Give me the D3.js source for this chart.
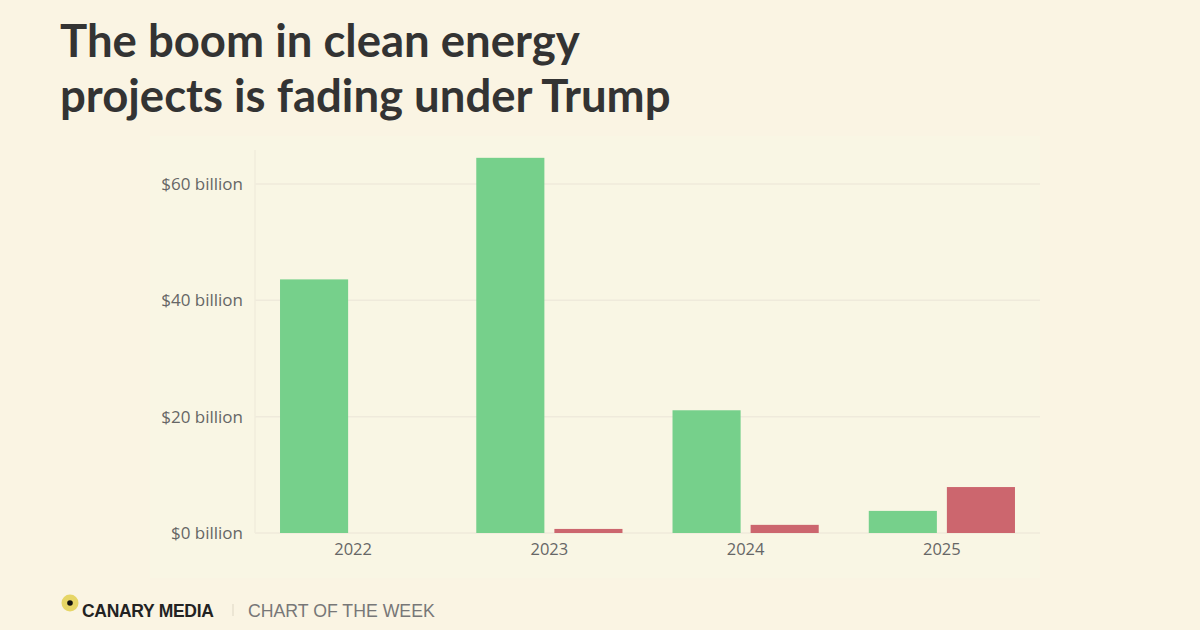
<!DOCTYPE html>
<html>
<head>
<meta charset="utf-8">
<script src="https://cdn.jsdelivr.net/npm/d3@7"></script>
<style>
  html, body { margin: 0; padding: 0; background: #faf4e3; }
  svg { display: block; }
</style>
</head>
<body>
<svg id="chart" width="1200" height="630"></svg>
<script>
// values, in billions of dollars
var years = ["2022", "2023", "2024", "2025"];
var series = ["new", "cancelled"];
var newProjects = [43.6, 64.5, 21.1, 3.8];
var cancelledProjects = [0, 0.7, 1.4, 7.9];
var yTicks = [0, 20, 40, 60];
var titleLines = ["The boom in clean energy", "projects is fading under Trump"];

var colors = { "new": "#76d08b", "cancelled": "#cc666e" };

var svg = d3.select("#chart");

var plot = { left: 255, right: 1040, top: 150, bottom: 533 };

// lighter panel behind the chart
svg.append("rect")
    .attr("x", 150).attr("y", 136)
    .attr("width", plot.right - 150).attr("height", 442)
    .attr("fill", "#f9f6e4");

// title
svg.append("g").selectAll("text")
    .data(titleLines)
  .enter().append("text")
    .attr("x", 60)
    .attr("y", function(d, i) { return 57 + i * 55; })
    .attr("font-family", "Lato, 'Noto Sans', sans-serif")
    .attr("font-weight", 700)
    .attr("font-size", 45.5)
    .attr("fill", "#333")
    .text(function(d) { return d; });

var x0 = d3.scaleBand()
    .domain(years)
    .range([plot.left, plot.right])
    .paddingInner(0.255)
    .paddingOuter(0.1275);

var x1 = d3.scaleBand()
    .domain(series)
    .range([0, x0.bandwidth()])
    .paddingInner(0.128);

var y = d3.scaleLinear()
    .domain([0, 60])
    .range([plot.bottom, 184]);

// grid
svg.append("g").selectAll("line")
    .data(yTicks)
  .enter().append("line")
    .attr("x1", plot.left).attr("x2", plot.right)
    .attr("y1", function(d) { return y(d); })
    .attr("y2", function(d) { return y(d); })
    .attr("stroke", "#efeadb")
    .attr("stroke-width", 1.5);

svg.append("line")
    .attr("x1", plot.left).attr("x2", plot.left)
    .attr("y1", plot.top).attr("y2", plot.bottom)
    .attr("stroke", "#f1ecdc")
    .attr("stroke-width", 1.5);

// y axis
var yAxis = d3.axisLeft(y)
    .tickValues(yTicks)
    .tickSize(0)
    .tickPadding(12)
    .tickFormat(function(d) { return "$" + d + " billion"; });

var gy = svg.append("g")
    .attr("transform", "translate(" + plot.left + ",0)")
    .call(yAxis);
gy.select(".domain").remove();
gy.selectAll("text")
    .attr("font-family", "'Open Sans', 'Noto Sans', sans-serif")
    .attr("font-size", 17)
    .attr("fill", "#666");

// x axis
var xAxis = d3.axisBottom(x0)
    .tickSize(0)
    .tickPadding(10);

var gx = svg.append("g")
    .attr("transform", "translate(0," + plot.bottom + ")")
    .call(xAxis);
gx.select(".domain").remove();
gx.selectAll("text")
    .attr("font-family", "'Open Sans', 'Noto Sans', sans-serif")
    .attr("font-size", 16.5)
    .attr("fill", "#666");

// bars
var rows = years.map(function(yr, i) {
    return { year: yr, values: [
        { key: "new", value: newProjects[i] },
        { key: "cancelled", value: cancelledProjects[i] }
    ] };
});

svg.append("g").selectAll("g")
    .data(rows)
  .enter().append("g")
    .attr("transform", function(d) { return "translate(" + x0(d.year) + ",0)"; })
  .selectAll("rect")
    .data(function(d) { return d.values.filter(function(v) { return v.value > 0; }); })
  .enter().append("rect")
    .attr("x", function(d) { return x1(d.key); })
    .attr("y", function(d) { return y(d.value); })
    .attr("width", x1.bandwidth())
    .attr("height", function(d) { return y(0) - y(d.value); })
    .attr("fill", function(d) { return colors[d.key]; });

// footer
var foot = svg.append("g");
foot.append("circle")
    .attr("cx", 70).attr("cy", 603).attr("r", 8.5)
    .attr("fill", "#e6d566");
foot.append("circle")
    .attr("cx", 70).attr("cy", 603).attr("r", 2.8)
    .attr("fill", "#111");
foot.append("text")
    .attr("x", 82).attr("y", 617)
    .attr("font-family", "'Liberation Sans', Arial, sans-serif")
    .attr("font-weight", 700)
    .attr("font-size", 17.5)
    .attr("letter-spacing", -0.3)
    .attr("fill", "#222")
    .text("CANARY MEDIA");
foot.append("line")
    .attr("x1", 233).attr("x2", 233)
    .attr("y1", 604).attr("y2", 616)
    .attr("stroke", "#ddd6c4");
foot.append("text")
    .attr("x", 248).attr("y", 617)
    .attr("font-family", "'Liberation Sans', Arial, sans-serif")
    .attr("font-size", 17.7)
    .attr("fill", "#777")
    .text("CHART OF THE WEEK");
</script>
</body>
</html>
